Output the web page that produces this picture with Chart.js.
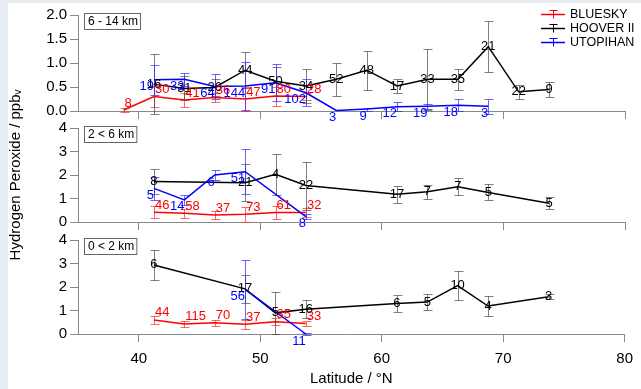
<!DOCTYPE html>
<html>
<head>
<meta charset="utf-8">
<script src="https://cdn.jsdelivr.net/npm/chart.js@4"></script>
<style>
    html, body { margin: 0; padding: 0; }
    body { width: 641px; height: 389px; background: #e8edf3; position: relative; overflow: hidden; }
    #paper { position: absolute; left: 8px; top: 3px; right: 0; bottom: 0; background: #fff; }
    canvas { position: absolute; left: 0; top: 0; }
</style>
</head>
<body>
<div id="paper"></div>
<canvas id="chartHigh" width="641" height="389"></canvas>
<canvas id="chartMid" width="641" height="389"></canvas>
<canvas id="chartLow" width="641" height="389"></canvas>
<script>
// latitude bin centres (°N)
const latitude = [38.75, 41.25, 43.75, 46.25, 48.75, 51.25, 53.75, 56.25, 58.75, 61.25, 63.75, 66.25, 68.75, 71.25, 73.75];

// 6 - 14 km
const blueskyHigh = [0.02, 0.30, 0.23, 0.28, 0.25, 0.31, 0.30];
const blueskyHighErr = [0.05, 0.22, 0.15, 0.10, 0.25, 0.20, 0.08];
const blueskyHighN = [8, 30, 41, 36, 47, 80, 28];
const hooverHigh = [null, 0.56, 0.47, 0.49, 0.85, 0.62, 0.52, 0.66, 0.85, 0.52, 0.66, 0.66, 1.34, 0.40, 0.45];
const hooverHighErr = [null, 0.62, 0.25, 0.18, 0.38, 0.30, 0.36, 0.34, 0.41, 0.15, 0.63, 0.22, 0.53, 0.14, 0.16];
const hooverHighN = [null, 16, 31, 26, 44, 50, 34, 52, 48, 17, 33, 35, 21, 22, 9];
const utopihanHigh = [null, 0.65, 0.66, 0.51, 0.52, 0.59, 0.38, 0.01, 0.04, 0.09, 0.10, 0.12, 0.10];
const utopihanHighErr = [null, 0.31, 0.14, 0.26, 0.50, 0.38, 0.28, 0.00, 0.03, 0.10, 0.05, 0.12, 0.16];
const utopihanHighN = [null, 19, 33, 64, 144, 91, 102, 3, 9, 12, 19, 18, 3];

// 2 < 6 km
const blueskyMid = [null, 0.41, 0.37, 0.30, 0.33, 0.40, 0.40];
const blueskyMidErr = [null, 0.25, 0.20, 0.18, 0.32, 0.28, 0.20];
const blueskyMidN = [null, 46, 58, 37, 73, 61, 32];
const hooverMid = [null, 1.72, null, null, 1.67, 2.03, 1.55, null, null, 1.18, 1.29, 1.50, 1.26, null, 0.80];
const hooverMidErr = [null, 0.52, null, null, 0.78, 0.88, 1.02, null, null, 0.36, 0.30, 0.36, 0.34, null, 0.25];
const hooverMidN = [null, 8, null, null, 21, 4, 22, null, null, 17, 7, 7, 5, null, 5];
const utopihanMid = [null, 1.43, 0.94, 2.00, 2.14, null, 0.23];
const utopihanMidErr = [null, 0.50, 0.20, 0.21, 0.95, null, 0.10];
const utopihanMidN = [null, 5, 14, 6, 51, null, 8];

// 0 < 2 km
const blueskyLow = [null, 0.60, 0.43, 0.48, 0.41, 0.52, 0.45];
const blueskyLowErr = [null, 0.17, 0.12, 0.12, 0.20, 0.15, 0.12];
const blueskyLowN = [null, 44, 115, 70, 37, 35, 33];
const hooverLow = [null, 2.94, null, null, 1.92, 0.90, 1.05, null, null, 1.30, 1.36, 2.06, 1.19, null, 1.59];
const hooverLowErr = [null, 0.63, null, null, 0.60, 0.90, 0.38, null, null, 0.38, 0.33, 0.60, 0.44, null, 0.10];
const hooverLowN = [null, 6, null, null, 17, 5, 16, null, null, 6, 5, 10, 4, null, 3];
const utopihanLow = [null, null, null, null, 1.90, null, 0.00];
const utopihanLowErr = [null, null, null, null, 1.25, null, 0.03];
const utopihanLowN = [null, null, null, null, 56, null, 11];

const campaigns = ['BLUESKY', 'HOOVER II', 'UTOPIHAN'];
const lineColors = ['#ff0000', '#000000', '#0000ff'];
const barColors = ['rgba(255,40,40,0.7)', 'rgba(60,60,60,0.65)', 'rgba(40,40,255,0.7)'];
const labelAlign = ['left', 'center', 'right'];
const labelShift = [-7, 0, 7];

Chart.defaults.font.family = "'Liberation Sans', Arial, 'DejaVu Sans', sans-serif";
Chart.defaults.color = '#000';

function makeSeries(k, values, errors, counts) {
    const pts = [];
    latitude.forEach(function (lat, i) {
        if (values[i] != null) pts.push({ x: lat, y: values[i], err: errors[i], n: counts[i] });
    });
    return {
        label: campaigns[k],
        data: pts,
        borderColor: lineColors[k],
        borderWidth: 1.5,
        pointRadius: 0,
        tension: 0,
        clip: false,
        order: 2 - k,
        barColor: barColors[k],
        align: labelAlign[k],
        shift: labelShift[k]
    };
}

// vertical error bars with caps
const errorBars = {
    id: 'errorBars',
    beforeDatasetsDraw(chart) {
        const ctx = chart.ctx;
        const ys = chart.scales.y;
        chart.data.datasets.forEach(function (ds, di) {
            const meta = chart.getDatasetMeta(di);
            ctx.save();
            ctx.strokeStyle = ds.barColor;
            ctx.lineWidth = 1;
            meta.data.forEach(function (pt, i) {
                const d = ds.data[i];
                if (!d.err) return;
                const top = Math.round(ys.getPixelForValue(d.y + d.err)) + 0.5;
                const bot = Math.round(ys.getPixelForValue(d.y - d.err)) + 0.5;
                const x = Math.round(pt.x) + 0.5;
                ctx.beginPath();
                ctx.moveTo(x, top); ctx.lineTo(x, bot);
                ctx.moveTo(x - 4, top); ctx.lineTo(x + 5, top);
                ctx.moveTo(x - 4, bot); ctx.lineTo(x + 5, bot);
                ctx.stroke();
            });
            ctx.restore();
        });
    }
};

// number of samples next to each point
const countLabels = {
    id: 'countLabels',
    afterDatasetsDraw(chart) {
        const ctx = chart.ctx;
        ctx.save();
        ctx.font = "13px 'Liberation Sans', Arial, sans-serif";
        ctx.textBaseline = 'middle';
        [1, 0, 2].forEach(function (di) {
            const ds = chart.data.datasets[di];
            const meta = chart.getDatasetMeta(di);
            ctx.fillStyle = ds.borderColor;
            ctx.textAlign = ds.align;
            meta.data.forEach(function (pt, i) {
                const dx = ds.align === 'left' ? 1 : 0;
                ctx.fillText(String(ds.data[i].n), pt.x + dx, pt.y + ds.shift);
            });
        });
        ctx.restore();
    }
};

// boxed altitude tag in top-left of each panel
const panelTag = {
    id: 'panelTag',
    afterDraw(chart, args, opts) {
        const ctx = chart.ctx;
        const a = chart.chartArea;
        ctx.save();
        ctx.font = "12px 'Liberation Sans', Arial, sans-serif";
        const w = ctx.measureText(opts.text).width + 6;
        ctx.fillStyle = '#fff';
        ctx.fillRect(a.left + 6.5, a.top - 1.5, w, 16);
        ctx.strokeStyle = '#666';
        ctx.lineWidth = 1;
        ctx.strokeRect(a.left + 6.5, a.top - 1.5, w, 16);
        ctx.fillStyle = '#000';
        ctx.textBaseline = 'middle';
        ctx.fillText(opts.text, a.left + 10, a.top + 7);
        ctx.restore();
    }
};

// legend in the top right corner
const cornerLegend = {
    id: 'cornerLegend',
    afterDraw(chart) {
        const ctx = chart.ctx;
        ctx.save();
        ctx.font = "12.5px 'Liberation Sans', Arial, sans-serif";
        ctx.textBaseline = 'middle';
        campaigns.forEach(function (name, k) {
            const y = 14.5 + 14 * k;
            ctx.strokeStyle = lineColors[k];
            ctx.lineWidth = 1.5;
            ctx.beginPath();
            ctx.moveTo(541, y); ctx.lineTo(565, y);
            ctx.stroke();
            ctx.lineWidth = 1;
            ctx.beginPath();
            ctx.moveTo(553.5, y - 4); ctx.lineTo(553.5, y + 4);
            ctx.moveTo(549.5, y - 4); ctx.lineTo(557.5, y - 4);
            ctx.stroke();
            ctx.fillStyle = '#000';
            ctx.fillText(name, 570, y);
        });
        ctx.restore();
    }
};

// every panel is a full-size transparent canvas; padding places its plot area
function makePanel(id, tag, sets, yMax, yStep, padTop, axisHeight, padBottom, isBottom, yTitle, extra) {
    const xAxis = {
        type: 'linear',
        min: 35,
        max: 80,
        ticks: {
            stepSize: 10,
            includeBounds: false,
            display: isBottom,
            font: { size: 15 },
            padding: 8,
            maxRotation: 0
        },
        grid: { drawOnChartArea: false, tickLength: 8, color: '#888' },
        border: { color: '#888' },
        title: {
            display: isBottom,
            text: 'Latitude / °N',
            font: { size: 15 },
            padding: { top: 0, bottom: 1 }
        },
        afterFit(s) { s.height = axisHeight; }
    };
    const yAxis = {
        min: 0,
        max: yMax,
        ticks: {
            stepSize: yStep,
            font: { size: 15 },
            padding: 3,
            callback: function (v) { return yStep < 1 ? v.toFixed(1) : v; }
        },
        grid: { drawOnChartArea: false, tickLength: 8, color: '#888' },
        border: { color: '#888' },
        title: {
            display: yTitle,
            text: 'Hydrogen Peroxide / ppbᵥ',
            font: { size: 15 },
            padding: { top: 7, bottom: 0 }
        },
        afterFit(s) { s.width = 78; }
    };
    return new Chart(document.getElementById(id), {
        type: 'line',
        data: { datasets: sets },
        options: {
            responsive: false,
            animation: false,
            devicePixelRatio: 1,
            events: [],
            layout: { padding: { left: 0, right: 16, top: padTop, bottom: padBottom } },
            scales: { x: xAxis, y: yAxis },
            plugins: {
                legend: { display: false },
                tooltip: { enabled: false },
                panelTag: { text: tag }
            }
        },
        plugins: [errorBars, countLabels, panelTag].concat(extra)
    });
}

makePanel('chartHigh', '6 - 14 km', [
    makeSeries(0, blueskyHigh, blueskyHighErr, blueskyHighN),
    makeSeries(1, hooverHigh, hooverHighErr, hooverHighN),
    makeSeries(2, utopihanHigh, utopihanHighErr, utopihanHighN)
], 2, 0.5, 15, 13, 265, false, false, [cornerLegend]);

makePanel('chartMid', '2 < 6 km', [
    makeSeries(0, blueskyMid, blueskyMidErr, blueskyMidN),
    makeSeries(1, hooverMid, hooverMidErr, hooverMidN),
    makeSeries(2, utopihanMid, utopihanMidErr, utopihanMidN)
], 4, 1, 128, 18, 149, false, true, []);

makePanel('chartLow', '0 < 2 km', [
    makeSeries(0, blueskyLow, blueskyLowErr, blueskyLowN),
    makeSeries(1, hooverLow, hooverLowErr, hooverLowN),
    makeSeries(2, utopihanLow, utopihanLowErr, utopihanLowN)
], 4, 1, 240, 55, 0, true, false, []);
</script>
</body>
</html>
